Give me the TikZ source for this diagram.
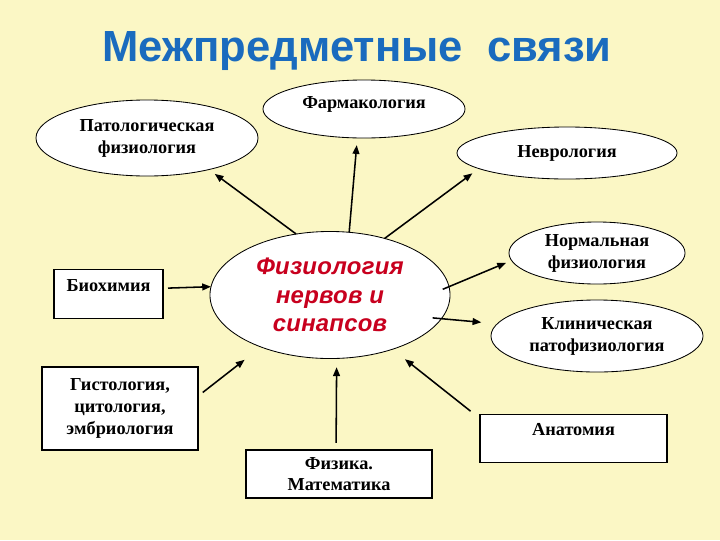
\documentclass[tikz,border=0pt]{standalone}
\usepackage{fontspec}
\setmainfont{Liberation Serif}
\newfontfamily\headfont{Liberation Sans}
\newfontfamily\corefont[LetterSpace=1]{Liberation Sans}
\usetikzlibrary{arrows.meta,shapes.geometric}
\definecolor{bgyellow}{HTML}{FBF7C5}
\definecolor{headblue}{HTML}{1A6BBE}
\definecolor{corered}{HTML}{C8001E}

\begin{document}
\begin{tikzpicture}[x=0.025cm, y=-0.025cm, >={Triangle[length=2.2mm,width=1.7mm]},
  oval/.style={draw, ellipse, fill=white, inner sep=0pt, outer sep=0pt, line width=0.6pt, align=center, font=\bfseries\fontsize{13}{15.6}\selectfont},
  box/.style={draw, rectangle, fill=white, inner sep=0pt, outer sep=0pt, line width=0.9pt, align=center, font=\bfseries\fontsize{13}{15.4}\selectfont},
  topbox/.style={box, text height=15.4pt, text depth=19pt},
  link/.style={->, line width=1.1pt}]
\fill[bgyellow] (0,0) rectangle (720,540);
\node[headblue, font=\headfont\bfseries\fontsize{31}{37}\selectfont] (title) at (357,51) {Межпредметные\ \ связи};

% outer topics
\node[oval, minimum width=5.05cm, minimum height=1.45cm, text height=8pt, text depth=9pt] (farm) at (364,109) {Фармакология};
\node[oval, minimum width=5.55cm, minimum height=1.9cm] (pat) at (147,138) {Патологическая\\физиология};
\node[oval, minimum width=5.5cm, minimum height=1.3cm] (nev) at (567,153) {Неврология};
\node[oval, minimum width=4.4cm, minimum height=1.55cm] (norm) at (597,253) {Нормальная\\физиология};
\node[oval, minimum width=5.3cm, minimum height=1.8cm] (klin) at (597,336) {Клиническая\\патофизиология};
\node[topbox, minimum width=2.725cm] (bio) at (108.5,294) {Биохимия};
\node[box, minimum width=3.9cm, minimum height=2.075cm] (gis) at (120,408.5) {Гистология,\\цитология,\\эмбриология};
\node[box, minimum width=4.65cm, minimum height=1.2cm] (fiz) at (339,474) {Физика.\\Математика};
\node[topbox, minimum width=4.675cm] (ana) at (573.5,438.5) {Анатомия};

% centre
\node[oval, minimum width=6cm, minimum height=3.175cm, text=corered, font=\corefont\bfseries\itshape\fontsize{17}{20.3}\selectfont] (cen) at (330,295) {Физиология\\нервов и\\синапсов};

\draw[link, shorten >=0.18cm] (cen.119) -- (pat.-27);
\draw[link, shorten >=0.18cm] (cen.73) -- (farm.-103.6);
\draw[link, shorten >=0.2cm] (cen.46) -- (nev.190.4);
\draw[link, shorten <=-0.17cm, shorten >=0.15cm] (cen.4.6) -- (norm.185);
\draw[link, shorten <=-0.22cm, shorten >=0.4cm] (cen.-12) -- (klin.173.8);
\draw[link, shorten <=0.3cm, shorten >=0.4cm] (ana.168.8) -- (cen.-41.5);
\draw[link, shorten <=0.18cm, shorten >=0.22cm] (fiz.97) -- (cen.-84.6);
\draw[link, shorten <=0.15cm, shorten >=0.52cm] (gis.9.1) -- (cen.217.8);
\draw[link, shorten <=0.125cm] (bio.6.3) -- (cen.176.6);
\end{tikzpicture}
\end{document}
